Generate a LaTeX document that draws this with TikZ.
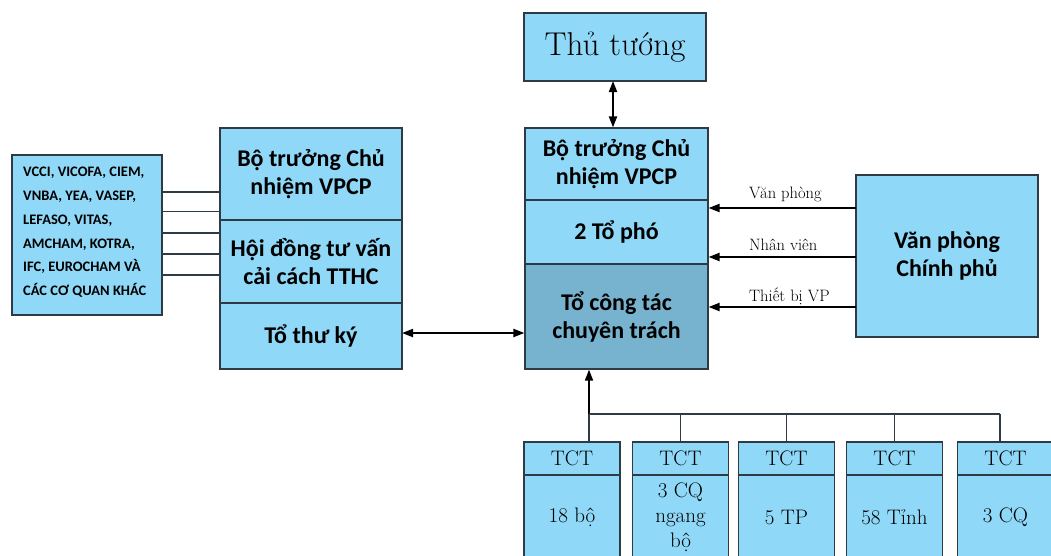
\documentclass[tikz,border=0pt]{standalone}
\usepackage{fontspec}
\newfontfamily\boxfont{Carlito}
\usetikzlibrary{arrows.meta}
\definecolor{lightb}{HTML}{8FD8F7}
\definecolor{darkb}{HTML}{77B3CF}
\definecolor{edge}{HTML}{2E3B44}
\tikzset{
  box/.style={draw=edge,line width=1.2pt,fill=lightb,rectangle,inner sep=2pt,align=center,
    font=\boxfont\bfseries\fontsize{24}{28}\selectfont},
  serifbox/.style={box,font=\fontsize{21}{25}\selectfont},
  link/.style={draw=edge,line width=1.2pt},
  bigarrow/.style={line width=2pt,-{Triangle[length=11pt,width=8pt]}},
  dblarrow/.style={line width=2pt,{Triangle[length=11pt,width=8pt]}-{Triangle[length=11pt,width=8pt]}},
  lbl/.style={anchor=west,inner sep=0pt,font=\fontsize{16.5}{18}\selectfont}
}
\begin{document}
\begin{tikzpicture}[x=1pt,y=-1pt]
\useasboundingbox (0,0) rectangle (1051,555);
% left list
\node[box,minimum width=150pt,minimum height=160pt] (list) at (87,235) {};
\node[anchor=north west,inner sep=0pt,align=left,font=\boxfont\bfseries\fontsize{14.5}{23.8}\selectfont] (listtext) at (23,167)
 {VCCI, VICOFA, CIEM,\\VNBA, YEA, VASEP,\\LEFASO, VITAS,\\AMCHAM, KOTRA,\\IFC, EUROCHAM VÀ\\CÁC CƠ QUAN KHÁC};
% left stack
\node[box,minimum width=182pt,minimum height=92pt] (L1) at (311,174) {Bộ trưởng Chủ\\nhiệm VPCP};
\node[box,minimum width=182pt,minimum height=83pt] (L2) at (311,261.5) {Hội đồng tư vấn\\cải cách TTHC};
\node[box,minimum width=182pt,minimum height=66pt] (L3) at (311,336) {Tổ thư ký};
% center stack
\node[box,minimum width=183pt,minimum height=72pt] (C1) at (616.5,164) {Bộ trưởng Chủ\\nhiệm VPCP};
\node[box,minimum width=183pt,minimum height=64pt] (C2) at (616.5,232) {2 Tổ phó};
\node[box,fill=darkb,minimum width=183pt,minimum height=105pt] (C3) at (616.5,316.5) {Tổ công tác\\chuyên trách};
% top
\node[box,font=\fontsize{33}{36}\selectfont,minimum width=182pt,minimum height=68pt] (tt) at (615,47) {Thủ tướng};
% right
\node[box,minimum width=182pt,minimum height=162pt] (vp) at (947,256) {Văn phòng\\Chính phủ};
% bottom boxes
\foreach \n/\x/\t in {1/572/18 bộ,2/680.5/{3 CQ\\ngang\\bộ},3/786.5/5 TP,4/894.5/58 Tỉnh,5/1005.5/3 CQ}{
  \node[serifbox,minimum width=96pt,minimum height=84pt] (B\n) at (\x,517) {\t};
  \node[serifbox,minimum width=96pt,minimum height=33pt] (H\n) at (\x,458.5) {TCT};
}
% list links
\foreach \i/\y in {1/192,2/211.5,3/233,4/254,5/275}{
  \coordinate (ls\i) at (162,\y);
  \draw[link] (ls\i) -- (ls\i -| L1.west);
}
% top arrow
\coordinate (ttx) at (613,81);
\draw[dblarrow] (ttx) -- (ttx |- C1.north);
% middle double arrow
\coordinate (mid) at (402,333);
\draw[dblarrow] (mid) -- (mid -| C3.west);
% VPCP arrows
\coordinate (a1) at (856,208);
\coordinate (a2) at (856,257);
\coordinate (a3) at (856,307);
\draw[bigarrow] (a1) -- (a1 -| C2.east);
\draw[bigarrow] (a2) -- (a2 -| C2.east);
\draw[bigarrow] (a3) -- (a3 -| C3.east);
\node[lbl] (t1) at (749,194) {Văn phòng};
\node[lbl] (t2) at (749,245) {Nhân viên};
\node[lbl] (t3) at (749,296) {Thiết bị VP};
% bus
\coordinate (bus) at (589,414);
\coordinate (busend) at (1000,414);
\draw[bigarrow,line width=1.6pt] (bus) -- (bus |- C3.south);
\draw[link] (bus) -- (busend);
\draw[link] (bus) -- (bus |- H1.north);
\draw[link] (H2.north |- bus) -- (H2.north);
\draw[link] (H3.north |- bus) -- (H3.north);
\draw[link] (H4.north |- bus) -- (H4.north);
\draw[link] (busend) -- (busend |- H5.north);
\end{tikzpicture}
\end{document}
